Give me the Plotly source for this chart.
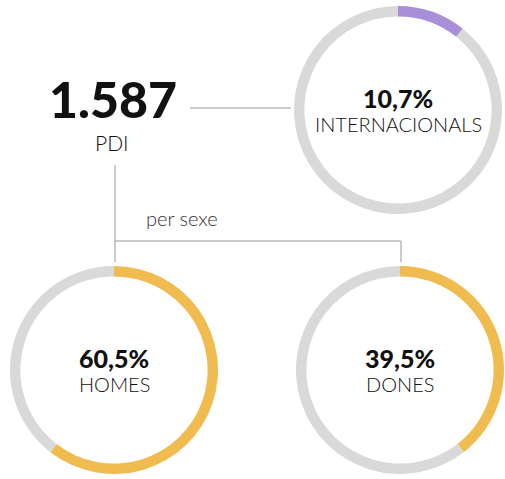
import plotly.graph_objects as go

# dades
total_pdi = "1.587"
total_label = "PDI"
group_label = "per sexe"
categories = ["INTERNACIONALS", "HOMES", "DONES"]
shares = [10.7, 60.5, 39.5]
share_text = ["10,7%", "60,5%", "39,5%"]

W, H = 505, 479
gray = "#d9d9d9"
ring_colors = ["#a98fd8", "#f0bc50", "#f0bc50"]
# centre (px) and radius of every ring
rings = [(398, 110), (114, 370), (400, 370)]
R = 104

fig = go.Figure()

for (cx, cy), cat, val, col in zip(rings, categories, shares, ring_colors):
    fig.add_trace(go.Pie(
        labels=[cat, "resta"],
        values=[val, 100 - val],
        hole=0.9,
        sort=False,
        direction="clockwise",
        rotation=0,
        marker=dict(colors=[col, gray], line=dict(width=0)),
        textinfo="none",
        hoverinfo="label+percent",
        showlegend=False,
        domain=dict(x=[max(0, (cx - R) / W), min(1, (cx + R) / W)],
                    y=[max(0, (H - cy - R) / H), min(1, (H - cy + R) / H)]),
    ))

# invisible pixel axes for connectors and text
fig.update_xaxes(range=[0, W], visible=False, fixedrange=True)
fig.update_yaxes(range=[H, 0], visible=False, fixedrange=True)
fig.add_trace(go.Scatter(x=[0], y=[0], mode="markers", marker=dict(opacity=0),
                         hoverinfo="skip", showlegend=False))

line = dict(color="#9a9a9a", width=1)
fig.add_shape(type="line", x0=190, x1=291, y0=108, y1=108, line=line)
fig.add_shape(type="line", x0=115, x1=115, y0=165, y1=262, line=line)
fig.add_shape(type="line", x0=115, x1=401, y0=241, y1=241, line=line)
fig.add_shape(type="line", x0=401, x1=401, y0=241, y1=262, line=line)

heavy = "'Lato Black', Lato, 'Open Sans', sans-serif"
light = "'Lato Light', Lato, 'Open Sans', sans-serif"
fig.add_annotation(x=113, y=99, text=total_pdi, showarrow=False,
                   font=dict(family=heavy, size=50, color="#111"))
fig.add_annotation(x=112, y=142, text=total_label, showarrow=False,
                   font=dict(family=light, size=21, color="#111"))
fig.add_annotation(x=182, y=218, text=group_label, showarrow=False,
                   font=dict(family=light, size=20, color="#333"))

for (cx, cy), cat, txt in zip(rings, categories, share_text):
    fig.add_annotation(x=cx, y=cy - 12, text=txt, showarrow=False,
                       font=dict(family=heavy, size=25, color="#111"))
    fig.add_annotation(x=cx, y=cy + 14, text=cat, showarrow=False,
                       font=dict(family=light, size=20, color="#111"))

fig.update_layout(
    width=W, height=H,
    margin=dict(l=0, r=0, t=0, b=0),
    paper_bgcolor="white",
    plot_bgcolor="white",
)

fig.write_html("out.html", config={"displayModeBar": False},
               post_script="document.body.style.margin='0';")
